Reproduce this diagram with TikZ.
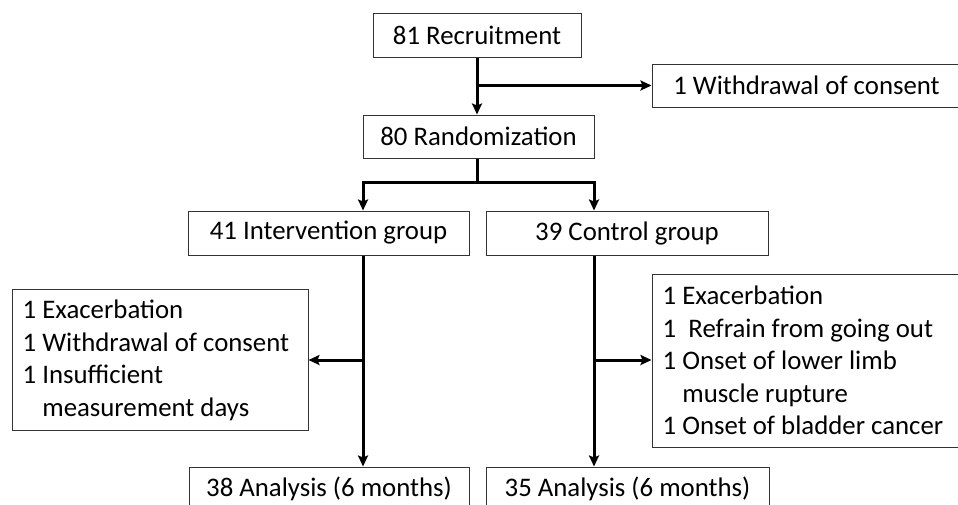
\documentclass[tikz,border=0pt]{standalone}
\usepackage{fontspec}
\setmainfont{Carlito}
\usetikzlibrary{arrows.meta,calc}
\begin{document}
\begin{tikzpicture}[x=1pt,y=-1pt,
  box/.style={draw=black!80,line width=1pt,fill=white,inner sep=0pt,
    font=\fontsize{26.8}{32.5}\selectfont,text=black},
  txt/.style={inner sep=0pt,align=left,anchor=west,
    font=\fontsize{26.8}{32.5}\selectfont,text=black},
  conn/.style={line width=3pt,black},
  arr/.style={conn,-{Stealth[length=11pt,width=10pt,inset=2pt]}}]
\useasboundingbox (0,0) rectangle (958,504);
\begin{scope}
\clip (0,0) rectangle (958,504);
\node[box,minimum width=208pt,minimum height=44pt] (rec) at (477,35) {81 Recruitment};
\node[box,minimum width=309pt,minimum height=43pt] (wd) at (806.5,85.5) {1 Withdrawal of consent};
\node[box,minimum width=231pt,minimum height=43pt] (rand) at (478.5,136.5) {80 Randomization};
\node[box,minimum width=281pt,minimum height=44pt] (int) at (328.5,233) {41 Intervention group};
\node[box,minimum width=282pt,minimum height=44pt] (ctrl) at (627,233) {39 Control group};
\node[box,minimum width=296pt,minimum height=141pt] (lex) at (160,359.5) {};
\node[txt] (lext) at ($(lex.west)+(11,1)$)
  {1 Exacerbation\\1 Withdrawal of consent\\1 Insufficient\\\phantom{1 }measurement days};
\node[box,minimum width=318pt,minimum height=173pt] (rex) at (811,360.5) {};
\node[txt] (rext) at ($(rex.west)+(11,0)$)
  {1 Exacerbation\\1~ Refrain from going out\\1 Onset of lower limb\\\phantom{1 }muscle rupture\\1 Onset of bladder cancer};
\node[box,minimum width=280pt,minimum height=44pt] (ana1) at (329,489) {38 Analysis (6 months)};
\node[box,minimum width=283pt,minimum height=44pt] (ana2) at (627.5,489) {35 Analysis (6 months)};
\end{scope}
% connectors
\draw[arr] (rec.south) -- (rec.south |- rand.north);
\coordinate (rb) at (rec.south |- wd.west);
\draw[arr] (rb) -- (wd.west);
\draw[conn] (rec.south |- rand.south) -- ++(0,24) coordinate (bc);
\coordinate (bl) at (363,182);
\coordinate (br) at (594,182);
\draw[conn,line cap=rect] (bl) -- (br);
\draw[arr] (bl) -- (bl |- int.north);
\draw[arr] (br) -- (br |- ctrl.north);
\draw[arr] (bl |- int.south) -- (bl |- ana1.north);
\draw[arr] (br |- ctrl.south) -- (br |- ana2.north);
\coordinate (lb) at (363,360);
\coordinate (rbb) at (594,360);
\draw[arr] (lb) -- (lb -| lex.east);
\draw[arr] (rbb) -- (rbb -| rex.west);
\end{tikzpicture}
\end{document}
